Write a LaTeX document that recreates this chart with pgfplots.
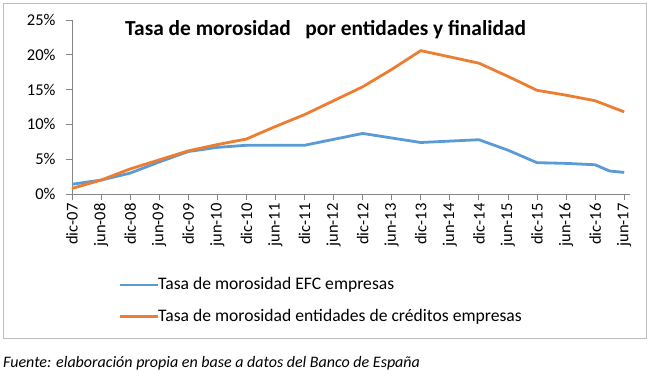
\documentclass[border=0pt]{standalone}
\usepackage{fontspec}
\setmainfont{Carlito}
\usepackage{pgfplots}
\pgfplotsset{compat=1.18}
\definecolor{cblue}{HTML}{5B9BD5}
\definecolor{corange}{HTML}{ED7D31}
\definecolor{axgray}{HTML}{868686}
\definecolor{bordergray}{HTML}{BFBFBF}
\begin{document}
\begin{tikzpicture}[x=1pt,y=1pt]
\path[use as bounding box] (-72,-184) rectangle (578,194);
\draw[bordergray, line width=0.8pt] (-69,-144) rectangle (574,191);
\begin{axis}[at={(0,0)}, anchor=south west, scale only axis,
  width=558pt, height=174pt,
  xmin=0, xmax=19.2, ymin=0, ymax=25,
  axis x line=bottom, axis y line=left,
  axis line style={axgray, line width=0.8pt, -},
  xtick={0,...,19},
  xticklabels={dic-07,jun-08,dic-08,jun-09,dic-09,jun-10,dic-10,jun-11,dic-11,jun-12,dic-12,jun-13,dic-13,jun-14,dic-14,jun-15,dic-15,jun-16,dic-16,jun-17},
  x tick label style={rotate=90, anchor=east, font=\fontsize{16.5}{18}\selectfont},
  ytick={0,5,...,25},
  yticklabels={0\%,5\%,10\%,15\%,20\%,25\%},
  y tick label style={font=\fontsize{16.5}{18}\selectfont, xshift=-7pt},
  tick align=outside, major tick length=6pt,
  tick style={axgray, line width=0.8pt},
  clip=false]
\addplot[cblue, line width=2.8pt, line join=round] coordinates {
(0,1.4) (1,2.0) (2,3.0) (3,4.6) (4,6.1) (5,6.7) (6,7.0) (7,7.0) (8,7.0)
(9,7.85) (10,8.7) (11,8.05) (12,7.4) (13,7.6) (14,7.8) (15,6.3) (16,4.5)
(17,4.4) (18,4.2) (18.5,3.3) (19,3.1)};
\addplot[corange, line width=2.8pt, line join=round] coordinates {
(0,0.8) (1,2.0) (2,3.6) (3,4.9) (4,6.2) (5,7.1) (6,7.9) (7,9.7) (8,11.4)
(9,13.4) (10,15.4) (11,17.9) (12,20.6) (13,19.7) (14,18.8) (15,16.9) (16,14.9)
(17,14.2) (18,13.4) (19,11.8)};
\end{axis}
\node[anchor=west, inner sep=0, font=\bfseries\fontsize{21.4}{24}\selectfont] at (53,164) {Tasa de morosidad\ \ \ por entidades y finalidad};
\draw[cblue, line width=2.8pt] (48,-91) -- (86,-91);
\node[anchor=west, inner sep=0, font=\fontsize{17.6}{20}\selectfont] at (86,-91) {Tasa de morosidad EFC empresas};
\draw[corange, line width=2.8pt] (48,-122.7) -- (86,-122.7);
\node[anchor=west, inner sep=0, font=\fontsize{17.6}{20}\selectfont] at (86,-122.7) {Tasa de morosidad entidades de créditos empresas};
\node[anchor=base west, inner sep=0, font=\itshape\fontsize{16}{18}\selectfont] at (-69,-173) {Fuente: elaboración propia en base a datos del Banco de España};
\end{tikzpicture}
\end{document}
